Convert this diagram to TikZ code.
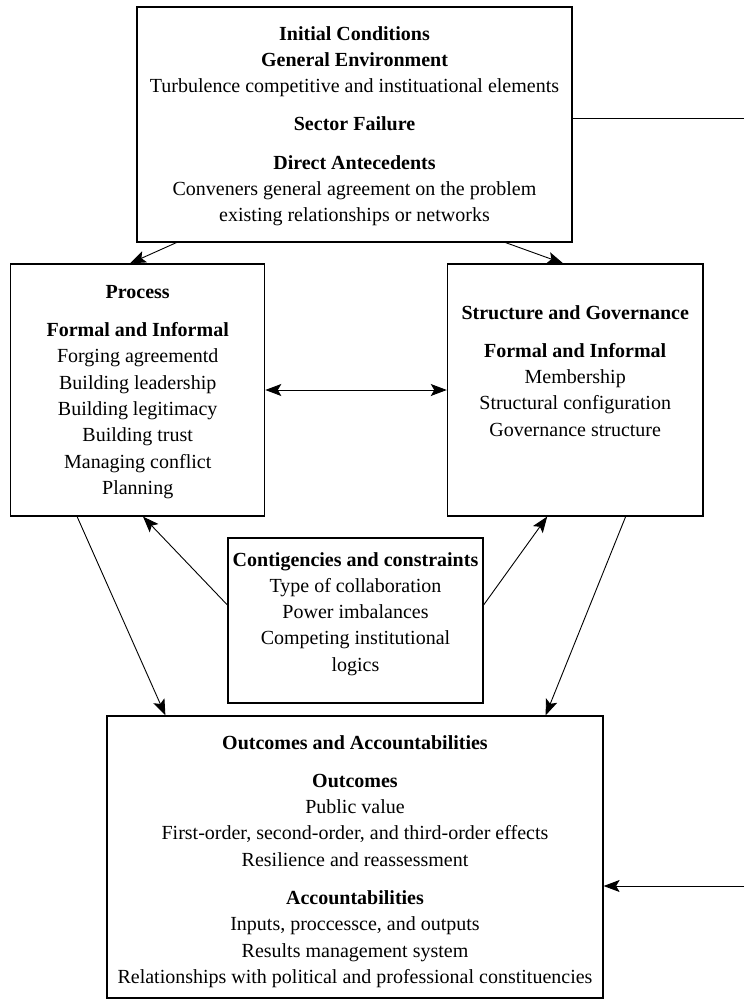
\documentclass[tikz,border=0pt]{standalone}
\usepackage{fontspec}
\setmainfont{Liberation Serif}
\usetikzlibrary{arrows.meta,calc}
\begin{document}
\begin{tikzpicture}[x=1pt,y=-1pt,
  box/.style={draw, line width=1.2pt, inner sep=0pt},
  txt/.style={anchor=north, align=center, inner sep=0pt, font=\fontsize{20}{26.3}\selectfont},
  tip/.tip={Stealth[length=16pt,width=12pt,inset=3.5pt]},
  conn/.style={line width=0.9pt, -tip},
  dconn/.style={line width=0.9pt, tip-tip},
  plain/.style={line width=0.9pt}
  ]
\useasboundingbox[fill=white] (0,0) rectangle (744,1000);

% boxes
\node[box, minimum width=435pt, minimum height=235pt] (init) at (354.5,124.5) {};
\node[box, minimum width=254pt, minimum height=252pt] (proc) at (137.7,390) {};
\node[box, minimum width=255.7pt, minimum height=252pt] (struct) at (575.2,390) {};
\node[box, minimum width=255pt, minimum height=165pt] (cont) at (355.5,620.5) {};
\node[box, minimum width=496pt, minimum height=282pt] (out) at (355,857) {};

% texts
\node[txt] (initT) at (354.5,26) {\textbf{Initial Conditions}\\ \textbf{General Environment}\\ Turbulence competitive and instituational elements\\[12pt] \textbf{Sector Failure}\\[12pt] \textbf{Direct Antecedents}\\ Conveners general agreement on the problem\\ existing relationships or networks};
\node[txt] (procT) at (137.7,285) {\textbf{Process}\\[12pt] \textbf{Formal and Informal}\\ Forging agreementd\\ Building leadership\\ Building legitimacy\\ Building trust\\ Managing conflict\\ Planning};
\node[txt] (structT) at (575.2,305) {\textbf{Structure and Governance}\\[12pt] \textbf{Formal and Informal}\\ Membership\\ Structural configuration\\ Governance structure};
\node[txt] (contT) at (355.5,552) {\textbf{Contigencies and constraints}\\ Type of collaboration\\ Power imbalances\\ Competing institutional\\ logics};
\node[txt] (outT) at (355,735) {\textbf{Outcomes and Accountabilities}\\[12pt] \textbf{Outcomes}\\ Public value\\ First-order, second-order, and third-order effects\\ Resilience and reassessment\\[12pt] \textbf{Accountabilities}\\ Inputs, proccessce, and outputs\\ Results management system\\ Relationships with political and professional constituencies};

% free ends
\coordinate (fbtop) at (744,118);
\coordinate (fbbot) at (744,886);

% connectors
\draw[conn] ($(init.south west)+(40,0)$) -- ($(proc.north)+(-7.7,0)$);
\draw[conn] ($(init.south east)+(-67,0)$) -- ($(struct.north)+(-12,0)$);
\draw[dconn] (proc.east) -- (struct.west);
\draw[conn] ($(proc.south west)+(67,0)$) -- ($(out.north west)+(59,0)$);
\draw[conn] ($(struct.south east)+(-78,0)$) -- ($(out.north east)+(-58,0)$);
\draw[conn] ($(cont.west)+(0,-15.5)$) -- ($(proc.south)+(5.3,0)$);
\draw[conn] ($(cont.east)+(0,-15.5)$) -- ($(struct.south)+(-28,0)$);
\draw[plain] ($(init.east)+(0,-6.5)$) -- (fbtop);
\draw[conn] (fbbot) -- ($(out.east)+(0,29)$);
\end{tikzpicture}
\end{document}
